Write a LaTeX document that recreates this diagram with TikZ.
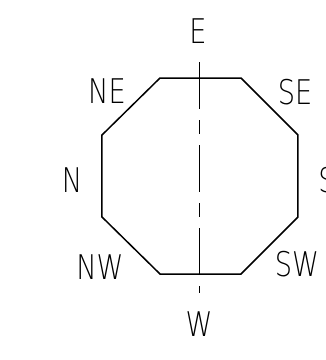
\documentclass[tikz,border=0pt]{standalone}
\usepackage{fontspec}
\newfontfamily\compassfont{DejaVu Sans ExtraLight}
\usepackage{tikz}
\usetikzlibrary{calc}

\begin{document}
\begin{tikzpicture}
        [
            x=1pt, y=1pt,
            edge/.style={line width=1.5pt, line join=miter},
            axisline/.style={line width=1pt, dash pattern=on 47pt off 11pt on 14pt off 11pt},
            heading/.style={font=\compassfont\fontsize{34}{34}\selectfont, xscale=0.8, inner sep=0pt}
        ]
        \useasboundingbox (0,0) rectangle (326,360);

        % corners of the octagon
        \coordinate (o-1) at (160,282);
        \coordinate (o-2) at (241,282);
        \coordinate (o-3) at (298,225);
        \coordinate (o-4) at (298,143);
        \coordinate (o-5) at (241,86);
        \coordinate (o-6) at (160,86);
        \coordinate (o-7) at (102,143);
        \coordinate (o-8) at (102,225);

        \draw[edge]
            (o-1) -- (o-2) -- (o-3) -- (o-4) -- (o-5) -- (o-6) -- (o-7) -- (o-8) -- cycle;

        % axis
        \coordinate (axis-top) at (200,298);
        \coordinate (axis-bottom) at (200,67);
        \draw[axisline] (axis-top) -- (axis-bottom);

        % headings
        \node[heading] (E)  at (198,329) {E};
        \node[heading] (NE) at (107,269) {NE};
        \node[heading] (SE) at (295,268) {SE};
        \node[heading] (N)  at (72,180)  {N};
        \node[heading] (S)  at (327,180) {S};
        \node[heading] (NW) at (100,93)  {NW};
        \node[heading] (SW) at (297,96)  {SW};
        \node[heading] (W)  at (199,36)  {W};

    \end{tikzpicture}
\end{document}
